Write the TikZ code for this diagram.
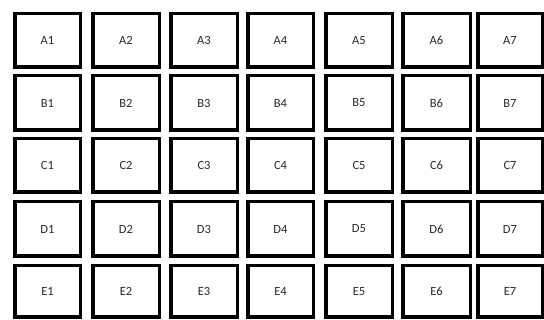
\documentclass[tikz,border=0pt]{standalone}
\usepackage{fontspec}
\setmainfont{Carlito}
\definecolor{labelgray}{HTML}{2A2A2A}
\begin{document}
\begin{tikzpicture}[x=1pt,y=1pt,
  cell/.style={draw=black, line width=3.5pt, fill=white, inner sep=0pt, rectangle,
    text=labelgray, font=\fontsize{12.5}{14}\selectfont}]
\useasboundingbox[fill=white] (0,0) rectangle (544,-320);
\foreach \r/\t/\b in {A/12/69, B/74/132, C/137/194, D/200/258, E/264/319}{
  \foreach \c/\l/\rr in {1/13/82, 2/91/161, 3/169/239, 4/246/315, 5/324/394, 6/401/472, 7/476/544}{
    \node[cell, minimum width={(\rr-\l-3.5)*1pt}, minimum height={(\b-\t-3.5)*1pt}]
      (\r\c) at ({(\l+\rr)/2},{-(\t+\b)/2}) {\r\c};
  }
}
\end{tikzpicture}
\end{document}
